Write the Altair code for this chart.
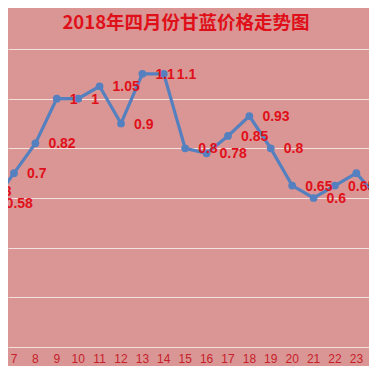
import altair as alt
import pandas as pd

days = [5, 6, 7, 8, 9, 10, 11, 12, 13, 14, 15, 16, 17, 18, 19, 20, 21, 22, 23, 24]
prices = [0.63, 0.58, 0.7, 0.82, 1.0, 1.0, 1.05, 0.9, 1.1, 1.1, 0.8, 0.78, 0.85, 0.93, 0.8, 0.65, 0.6, 0.65, 0.7, 0.6]
labels = ["0.63", "0.58", "0.7", "0.82", "1", "1", "1.05", "0.9", "1.1", "1.1", "0.8", "0.78", "0.85", "0.93", "0.8", "0.65", "0.6", "0.65", "0.7", "0.6"]
tick_days = list(range(7, 25))
title_text = "2018年四月份甘蓝价格走势图"

df = pd.DataFrame({"day": days, "price": prices, "label": labels})
ticks = pd.DataFrame({"day": tick_days, "t": [str(d) for d in tick_days]})

BG = "#d99694"
xscale = alt.Scale(domain=[6.72, 23.59], nice=False, zero=False)
x = alt.X("day:Q", scale=xscale, axis=None)
y = alt.Y("price:Q", scale=alt.Scale(domain=[0, 1.2], nice=False), axis=alt.Axis(
    values=[0, 0.2, 0.4, 0.6, 0.8, 1.0, 1.2], grid=True, gridColor="#f4e0df", gridWidth=1.2,
    labels=False, ticks=False, domain=False, title=None))

line = alt.Chart(df).mark_line(color="#5580bf", strokeWidth=3.2, clip=False).encode(x=x, y=y)
pts = alt.Chart(df).mark_point(filled=True, size=60, color="#5580bf", opacity=1, clip=False).encode(x=x, y=y)
txt = alt.Chart(df).mark_text(align="left", baseline="middle", dx=13, dy=1, fontSize=14,
                               fontWeight="bold", font="Liberation Sans", color="#e0101a", clip=False).encode(
    x=x, y=y, text="label:N")
tick_txt = alt.Chart(ticks).mark_text(baseline="middle", fontSize=12, font="Liberation Sans",
                                      color="#c8202a").encode(
    x=alt.X("day:Q", scale=xscale, axis=None),
    y=alt.value(310), text="t:N")
ttl = alt.Chart(pd.DataFrame({"t": [title_text]})).mark_text(
    baseline="middle", fontSize=18.5, fontWeight="bold", font="Noto Sans CJK SC", color="#e0101a").encode(
    x=alt.value(178), y=alt.value(-26), text="t:N")

chart = alt.layer(line, pts, txt, tick_txt, ttl).properties(
    width=361, height=298, background=BG,
    autosize=alt.AutoSizeParams(type="none"),
    padding={"left": 0, "top": 41, "right": 0, "bottom": 19},
).configure_view(stroke=None, fill=BG)

chart.save("out.html", embed_options={"renderer": "svg", "actions": False})
